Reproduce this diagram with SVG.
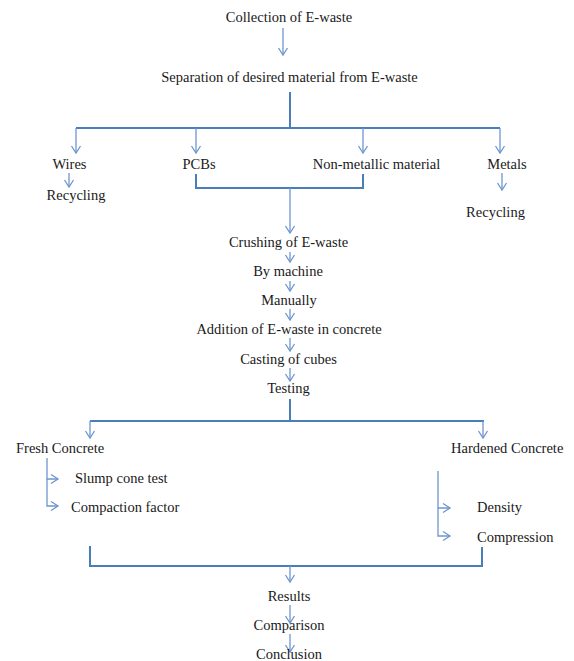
<svg xmlns="http://www.w3.org/2000/svg" width="574" height="661" viewBox="0 0 574 661" font-family="'Liberation Serif', 'DejaVu Serif', serif">
<style>
text{font-family:'Liberation Serif','DejaVu Serif',serif;font-size:14.5px;fill:#1a1a1a}
.c{text-anchor:middle}
.ln{fill:none;stroke:#4A7EBB;stroke-width:2}
.ar{fill:none;stroke:#6E95CF;stroke-width:1.3;marker-end:url(#ah)}
</style>
<defs>
<marker id="ah" markerUnits="userSpaceOnUse" markerWidth="12" markerHeight="12" refX="0" refY="0" viewBox="-8 -6 10 12" orient="auto" overflow="visible">
<path d="M-7,-4.5 L0,0 L-7,4.5" fill="none" stroke="#6E95CF" stroke-width="1.3"/>
</marker>
</defs>
<rect width="574" height="661" fill="#fff"/>
<g id="connectors">
<path class="ar" d="M283,28 V55"/>
<path class="ln" d="M290,92 V128 M76,128 H500"/>
<path class="ar" d="M76,128 V153"/>
<path class="ar" d="M196,128 V153"/>
<path class="ar" d="M363,128 V153"/>
<path class="ar" d="M500,128 V153"/>
<path class="ar" d="M69,173 V187"/>
<path class="ar" d="M502,173 V190"/>
<path class="ln" d="M196,174 V188 H363 V174"/>
<path class="ar" d="M290,188 V233"/>
<path class="ar" d="M290,252 V262"/>
<path class="ar" d="M290,281 V291"/>
<path class="ar" d="M290,309 V320"/>
<path class="ar" d="M290,338 V351"/>
<path class="ar" d="M290,368 V381"/>
<path class="ln" d="M290,399 V421 M90,421 H484"/>
<path class="ar" d="M90,421 V438"/>
<path class="ar" d="M483,421 V438"/>
<path class="ar" d="M47,458 V479 H58"/>
<path class="ar" d="M47,479 V506 H58"/>
<path class="ar" d="M438,471 V508 H450"/>
<path class="ar" d="M438,508 V536 H450"/>
<path class="ln" d="M90,546 V566 H482 V547"/>
<path class="ar" d="M290,566 V582"/>
<path class="ar" d="M290,605 V623"/>
<path class="ar" d="M290,634 V652"/>
</g>
<g id="collection"><text class="c" x="289" y="22">Collection of E-waste</text></g>
<g id="separation"><text class="c" x="289.5" y="82">Separation of desired material from E-waste</text></g>
<g id="wires"><text class="c" x="69.5" y="169">Wires</text></g>
<g id="pcbs"><text class="c" x="199" y="169">PCBs</text></g>
<g id="nonmetallic"><text class="c" x="376.5" y="169">Non-metallic material</text></g>
<g id="metals"><text class="c" x="507" y="169">Metals</text></g>
<g id="recycling1"><text class="c" x="76" y="200">Recycling</text></g>
<g id="recycling2"><text class="c" x="495.5" y="217">Recycling</text></g>
<g id="crushing"><text class="c" x="288.5" y="247">Crushing of E-waste</text></g>
<g id="bymachine"><text class="c" x="288" y="276">By machine</text></g>
<g id="manually"><text class="c" x="289" y="305">Manually</text></g>
<g id="addition"><text class="c" x="289" y="334">Addition of E-waste in concrete</text></g>
<g id="casting"><text class="c" x="288.5" y="364">Casting of cubes</text></g>
<g id="testing"><text class="c" x="288.5" y="393">Testing</text></g>
<g id="fresh"><text x="16" y="453">Fresh Concrete</text></g>
<g id="hardened"><text x="451" y="453">Hardened Concrete</text></g>
<g id="slump"><text x="75" y="483">Slump cone test</text></g>
<g id="compaction"><text x="71" y="512">Compaction factor</text></g>
<g id="density"><text x="477" y="512">Density</text></g>
<g id="compression"><text x="477" y="542">Compression</text></g>
<g id="results"><text class="c" x="289" y="601">Results</text></g>
<g id="comparison"><text class="c" x="289" y="630">Comparison</text></g>
<g id="conclusion"><text class="c" x="289" y="659">Conclusion</text></g>
</svg>
